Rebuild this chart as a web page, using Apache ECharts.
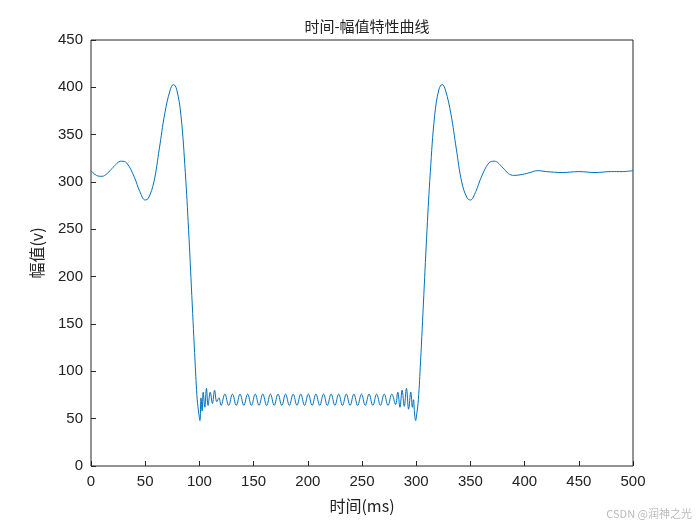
<!DOCTYPE html>
<html><head><meta charset="utf-8">
<script src="https://cdn.jsdelivr.net/npm/echarts@6/dist/echarts.min.js"></script>
<style>html,body{margin:0;background:#fff}#c{width:700px;height:525px}</style>
</head><body><div id="c"></div>
<script>
const timeMs = [0,5,10,15,20,28,33,40,45,50,53,58,63,68,73,76,79,83,87,90,93,96,98,99.5,100.5,101.5,102.5,103.5,105,106.5,108,110,112,114,116,118,
120,123.5,127,130.5,134,137.5,141,144.5,148,151.5,155,158.5,162,165.5,169,172.5,176,179.5,183,186.5,190,193.5,197,200.5,204,207.5,211,214.5,218,221.5,225,228.5,232,235.5,239,242.5,246,249.5,253,256.5,260,263.5,267,270.5,274,277.5,
281,283,285,287,289,291,293,295,296.5,297.5,298.5,299.5,300.5,302,304,307,310,313,317,321,324,327,332,337,342,347,350,355,360,367,372,380,385,390,398,405,412,420,435,450,465,480,490,500];
const amplitude = [312,307,306,309,315,322,320,305,290,281,283,300,335,372,397,403,398,370,310,250,180,110,70,55,48,72,58,78,62,82,64,78,66,80,68,72,
64,76,64,76,64,76,64,76,64,76,
64,76,64,76,64,76,64,76,64,76,
64,76,64,76,64,76,64,76,64,76,
64,76,64,76,64,76,64,76,64,76,
64,76,64,76,64,76,
65,78,62,80,63,82,60,78,62,70,55,48,55,70,110,180,250,310,370,398,403,397,372,335,300,283,281,290,305,320,322,315,309,307,308,310,312,311,310,311,310,311,311,312];
const chart = echarts.init(document.getElementById('c'));
const font = 'Liberation Sans, Arial, sans-serif';
chart.setOption({
  backgroundColor:'#fff',
  animation:false,
  title:{text:'时间-幅值特性曲线',left:362,top:14,textAlign:'center',textStyle:{fontSize:15,fontWeight:'normal',color:'#222',fontFamily:'Noto Sans CJK SC'}},
  grid:{left:91,right:67,top:40,bottom:59,show:true,borderColor:'#262626',borderWidth:1},
  xAxis:{type:'value',min:0,max:500,interval:50,name:'时间(ms)',nameLocation:'middle',nameGap:32,
    nameTextStyle:{fontSize:16,color:'#222',fontFamily:'Noto Sans CJK SC'},
    axisLine:{show:false},axisTick:{inside:true,length:5,lineStyle:{color:'#262626'}},
    axisLabel:{fontSize:15,color:'#222',fontFamily:font,margin:8},splitLine:{show:false}},
  yAxis:{type:'value',min:0,max:450,interval:50,name:'幅值(v)',nameLocation:'middle',nameGap:46,nameRotate:90,
    nameTextStyle:{fontSize:16,color:'#222',fontFamily:'Noto Sans CJK SC'},
    axisLine:{show:false},axisTick:{show:true,inside:true,length:5,lineStyle:{color:'#262626'}},
    axisLabel:{fontSize:15,color:'#222',fontFamily:font,margin:8},splitLine:{show:false}},
  series:[{type:'line',data:timeMs.map((t,i)=>[t,amplitude[i]]),smooth:0.4,showSymbol:false,
    lineStyle:{color:'#0072BD',width:1}}],
  graphic:[{type:'text',right:8,bottom:6,style:{text:'CSDN @润神之光',fill:'#bbb',fontSize:11,fontFamily:'Noto Sans CJK SC'}}]
});
</script></body></html>
